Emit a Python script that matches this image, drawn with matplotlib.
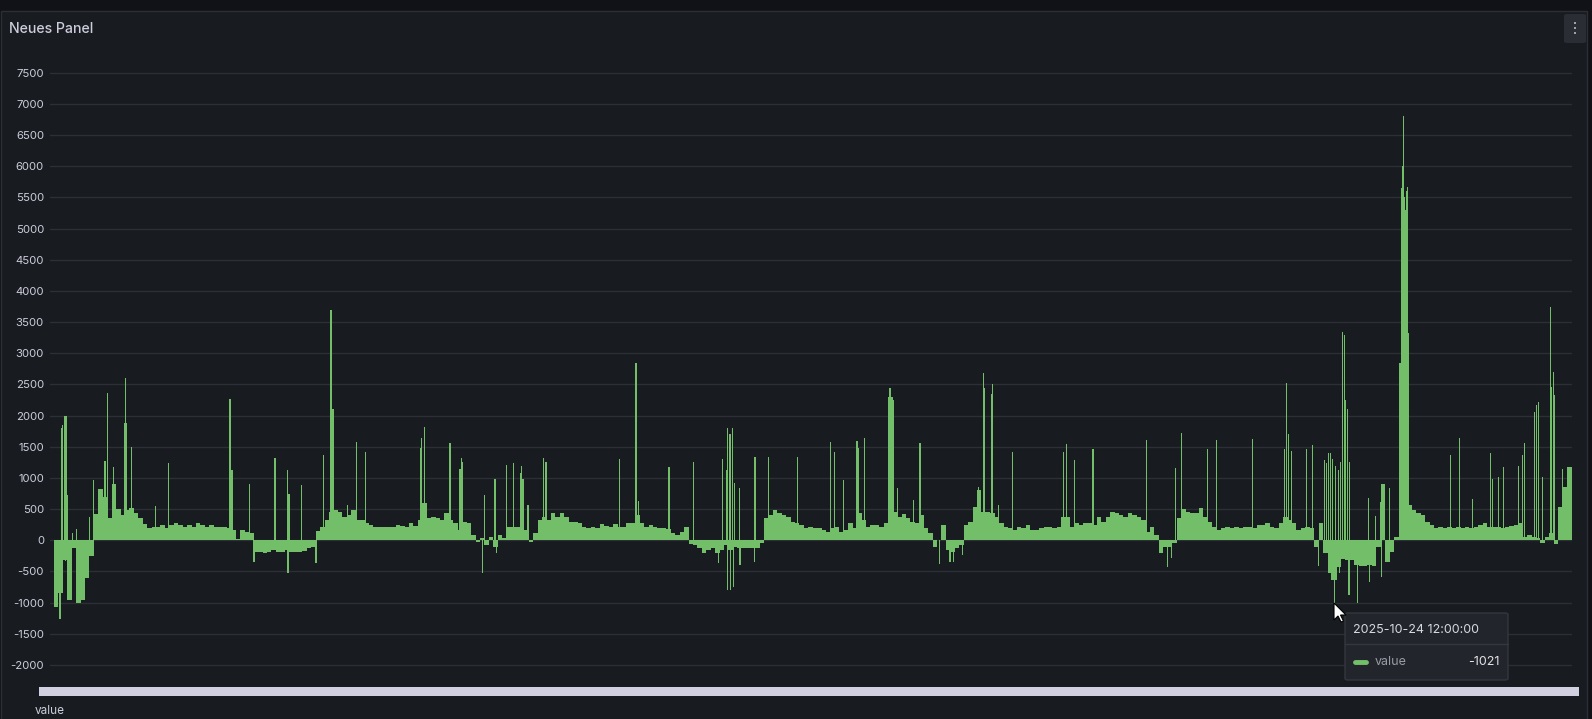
import matplotlib.pyplot as plt
from matplotlib.patches import Rectangle, FancyBboxPatch, Polygon
from matplotlib.lines import Line2D

plt.rcParams['font.family'] = ['Inter', 'DejaVu Sans']

# grafana panel "Neues Panel", one value per half hour starting 2025-10-18 12:00
start_time = "2025-10-18 12:00"
base_values = [
    -1070, -850, -320, -950, -120, -1000, -950, -600, -250, 420,
    820, 700, 350, 900, 500, 400, 480, 520, 430, 360,
    260, 200, 210, 220, 240, 190, 250, 270, 250, 220,
    250, 220, 270, 250, 220, 250, 220, 220, 220, 190,
    165, 20, 165, 140, 120, -180, -180, -210, -180, -155,
    -180, -180, -160, -180, -180, -180, -170, -120, -100, 150,
    220, 330, 460, 490, 460, 380, 410, 490, 330, 330,
    275, 250, 220, 210, 210, 220, 210, 245, 230, 220,
    275, 230, 330, 600, 355, 380, 355, 330, 435, 330,
    275, 170, 300, 275, 85, -20, 30, -75, 60, -100,
    85, 30, 220, 210, 210, 245, 165, -20, 110, 330,
    380, 330, 435, 380, 435, 380, 300, 300, 275, 220,
    195, 220, 195, 260, 230, 220, 260, 220, 210, 285,
    275, 410, 275, 220, 250, 220, 195, 195, 180, 113,
    85, 140, 220, -60, -75, -130, -210, -156, -130, -210,
    -156, -75, -150, -100, -130, -130, -130, -130, -130, -50,
    355, 410, 490, 435, 410, 380, 300, 285, 250, 195,
    220, 195, 200, 165, 140, 195, 220, 140, 165, 275,
    195, 435, 330, 220, 250, 250, 220, 275, 2300, 460,
    380, 420, 355, 300, 275, 410, 195, 113, -100, 5,
    250, -155, -180, -130, -75, 250, 300, 540, 810, 460,
    460, 435, 380, 275, 220, 195, 165, 220, 195, 250,
    165, 165, 195, 220, 220, 195, 220, 380, 380, 220,
    275, 250, 275, 275, 250, 380, 300, 380, 460, 435,
    410, 380, 435, 410, 380, 330, 140, 220, 86, -210,
    -100, -100, -48, 355, 500, 460, 435, 445, 516, 380,
    300, 220, 165, 195, 220, 195, 220, 195, 220, 220,
    195, 250, 250, 275, 220, 195, 275, 380, 330, 275,
    165, 195, 220, 195, -100, 275, -210, -532, -640, -425,
    -300, -315, -315, -395, -420, -420, -395, -420, -100, 900,
    -342, -180, 60, 2840, 3300, 567, 487, 433, 406, 300,
    246, 193, 220, 193, 220, 193, 220, 193, 220, 193,
    220, 246, 273, 220, 220, 220, 193, 220, 230, 246,
    273, 60, 85, 60, 30, -40, 60, 112, -60, 540,
    860, 1180,
]

# short single readings (hours since start, value)
spike_hours = [
    0.68, 0.87, 0.98, 1.05, 1.24, 1.28, 1.39, 1.50, 2.07, 2.55,
    3.98, 4.43, 5.75, 6.01, 6.68, 8.00, 8.11, 8.19, 8.75, 11.46,
    12.92, 19.83, 19.94, 20.06, 22.08, 22.54, 24.90, 26.29, 26.37, 26.48,
    27.91, 29.52, 30.35, 31.21, 31.44, 33.05, 34.06, 35.08, 41.28, 41.43,
    41.73, 44.62, 44.70, 45.75, 45.89, 46.01, 48.26, 48.49, 49.69, 49.88,
    51.00, 51.83, 52.54, 52.66, 52.85, 53.41, 55.18, 55.44,
    63.70, 65.58, 65.65, 65.84, 69.30, 72.07, 74.85, 75.35, 75.80, 75.87,
    75.91, 76.17, 76.24, 76.43, 76.58, 76.65, 77.22, 77.30, 78.91, 78.99,
    80.49, 80.56, 83.76,
    87.48, 87.96, 88.94, 90.48, 90.63, 91.34, 94.20, 94.55, 95.06, 96.90,
    97.58, 99.75, 100.96, 101.33, 102.35, 104.15, 104.71, 104.82, 105.65, 105.80,
    106.40, 107.98, 113.73, 114.11, 114.97,
    116.99, 117.10, 123.07, 125.48, 125.93, 126.34, 127.02, 129.99, 131.04, 135.10,
    138.66, 138.89, 139.07, 139.45, 141.14, 141.78, 142.50, 143.13, 143.40, 143.58,
    143.70, 143.85, 143.97, 144.07, 144.26, 144.42, 144.53, 144.71, 144.82,
    145.01, 145.24, 145.39, 145.54, 145.72, 145.92, 145.95, 146.89, 148.17, 148.28,
    148.88, 149.48, 149.60, 150.46, 151.85, 151.96, 152.05, 152.17, 152.28, 152.40,
    152.50, 152.60, 157.33, 158.35, 159.85, 161.84, 162.06, 162.78, 163.38, 165.03,
    165.48, 165.67, 166.84, 167.06, 167.32, 167.74, 168.68, 168.79, 168.94, 169.13,
    170.00,
]
spike_values = [
    -1260, 1806, 1850, -320, 1995, -330, 1990, 731, 120, 177,
    371, 973, 1269, 2360, 1177, 1887, 2597, 1887, 1500, 554,
    1242, 2274, 2274, 1134, 903, -355, 1322, 1134, -532, 747,
    892, -370, 1365, 3688, 2100, 570, 1580, 1414, 1484, 1645,
    1822, 1565, 1188, 1150, 1320, 1250, -532, 731, 990, -210,
    1215, 1242, 1080, 1188, 990, 570, 1322, 1252,
    1312, 2838, 1510, 624, 1172, 1258, -371, 1306, 1134, -800,
    1806, 1700, -800, 1806, -747, 920, 838, -398, -344, 1338,
    892, 1338, 1333,
    1575, 1420, 973, 1597, 1473, 1645, 2450, 2250, 838, 650,
    1565, -387, -355, -350, -236, 850, 2677, 2450, 2344, 2505,
    570, 1420, 1420, 1548, 1285,
    1457, 1457, 1602, -425, -290, 1161, 1715, 1457, 1602, 1629,
    1457, 2521, 1700, 1430, 1457, 1527, -409, 1285, 1240, 1400,
    -532, 1400, -640, 1300, -1021, 1200, -640, 1134, -532,
    1250, 3350, 3300, 2250, 2100, -877, 1250, -1011, 674, -663,
    390, 620, -583, 834, 5650, 6000, 6800, 5515, 5300, 5600,
    5676, 3320, 1370, 1637, 663, 1396, 984, 1022, 1171, 1193,
    1370, 1557, 2065, 2172, 2215, 1022, 3750, 2466, 2707, 2332,
    1140,
]

y_ticks = [-2000, -1500, -1000, -500, 0, 500, 1000, 1500, 2000, 2500, 3000,
           3500, 4000, 4500, 5000, 5500, 6000, 6500, 7000, 7500]

tooltip_time = "2025-10-24 12:00:00"
tooltip_value = -1021

GREEN = '#73bf69'
BG = '#181b1f'
TEXT = '#ccccdc'
W, H = 1592, 719


def fx(x):
    return x / W


def fy(y):
    return 1 - y / H


fig = plt.figure(figsize=(W / 100, H / 100), dpi=100, facecolor='#111217')

# panel background + border (behind the axes)
fig.add_artist(Rectangle((fx(0.5), fy(730)), fx(1586.5), fy(11) - fy(730),
                         transform=fig.transFigure, facecolor=BG,
                         edgecolor='#2b2e34', linewidth=1, zorder=-10))
fig.text(fx(9), fy(29), 'Neues Panel', color=TEXT, fontsize=10.2,
         fontweight='medium', va='center', ha='left')

# menu button top right
fig.add_artist(FancyBboxPatch((fx(1564), fy(43)), fx(22), fy(14) - fy(43),
                              boxstyle='round,pad=0,rounding_size=0.002',
                              transform=fig.transFigure, facecolor='#2a2d33',
                              edgecolor='none'))
for yy in (23, 28, 33):
    fig.add_artist(Rectangle((fx(1573.5), fy(yy + 1.2)), fx(2.6), fy(yy) - fy(yy + 2.4),
                             transform=fig.transFigure, facecolor='#9fa1a8',
                             edgecolor='none'))

ax = fig.add_axes([fx(50), fy(672), fx(1572) - fx(50), fy(60) - fy(672)])
ax.set_facecolor('none')

base_hours = [i * 0.5 for i in range(len(base_values))]
ax.bar(base_hours, base_values, width=0.5, align='edge', color=GREEN,
       linewidth=0, zorder=2)
ax.bar(spike_hours, spike_values, width=0.12, align='center', color=GREEN,
       linewidth=0, zorder=3)

ax.set_xlim(-0.45, 171.05)
ax.set_ylim(-2113, 7706)
ax.set_yticks(y_ticks)
ax.set_yticklabels([str(v) for v in y_ticks])
ax.set_xticks([])
ax.tick_params(axis='y', length=0, pad=4.3, labelsize=8.2, labelcolor=TEXT)
ax.grid(axis='y', color='#2c2f35', linewidth=1, zorder=0)
ax.set_axisbelow(True)
for s in ax.spines.values():
    s.set_visible(False)

# x axis labels are so dense they merge into a solid band
fig.add_artist(Rectangle((fx(39), fy(696)), fx(1579) - fx(39), fy(687) - fy(696),
                         transform=fig.transFigure, facecolor='#d0d0e1',
                         edgecolor='none'))
fig.text(fx(35), fy(717), 'value', color=TEXT, fontsize=8.5, va='bottom', ha='left')

# tooltip
fig.add_artist(FancyBboxPatch((fx(1345), fy(680)), fx(163), fy(613) - fy(680),
                              boxstyle='round,pad=0,rounding_size=0.002',
                              transform=fig.transFigure, facecolor='#22252b',
                              edgecolor='#34373d', linewidth=1, zorder=10))
fig.add_artist(Line2D([fx(1345), fx(1508)], [fy(644), fy(644)],
                      transform=fig.transFigure, color='#34373d', lw=1, zorder=11))
fig.text(fx(1353), fy(630), tooltip_time, color='#d8d9e0', fontsize=9,
         va='center', ha='left', zorder=12)
fig.add_artist(Line2D([fx(1355), fx(1366)], [fy(662), fy(662)],
                      transform=fig.transFigure, color=GREEN, lw=3.5,
                      solid_capstyle='round', zorder=12))
fig.text(fx(1375), fy(662), 'value', color='#9a9ba6', fontsize=9,
         va='center', ha='left', zorder=12)
fig.text(fx(1500), fy(662), str(tooltip_value), color='#e2e3e8', fontsize=9,
         va='center', ha='right', zorder=12)

# mouse pointer
tip_x, tip_y = 1334, 603
arrow = [(0, 0), (0, 17), (4, 13), (7, 19), (9.5, 18), (6.5, 12), (12, 12)]
fig.add_artist(Polygon([(fx(tip_x + a), fy(tip_y + b)) for a, b in arrow],
                       closed=True, transform=fig.transFigure,
                       facecolor='white', edgecolor='black', lw=0.8, zorder=13))

fig.savefig('out.png', dpi=100, facecolor=fig.get_facecolor())
